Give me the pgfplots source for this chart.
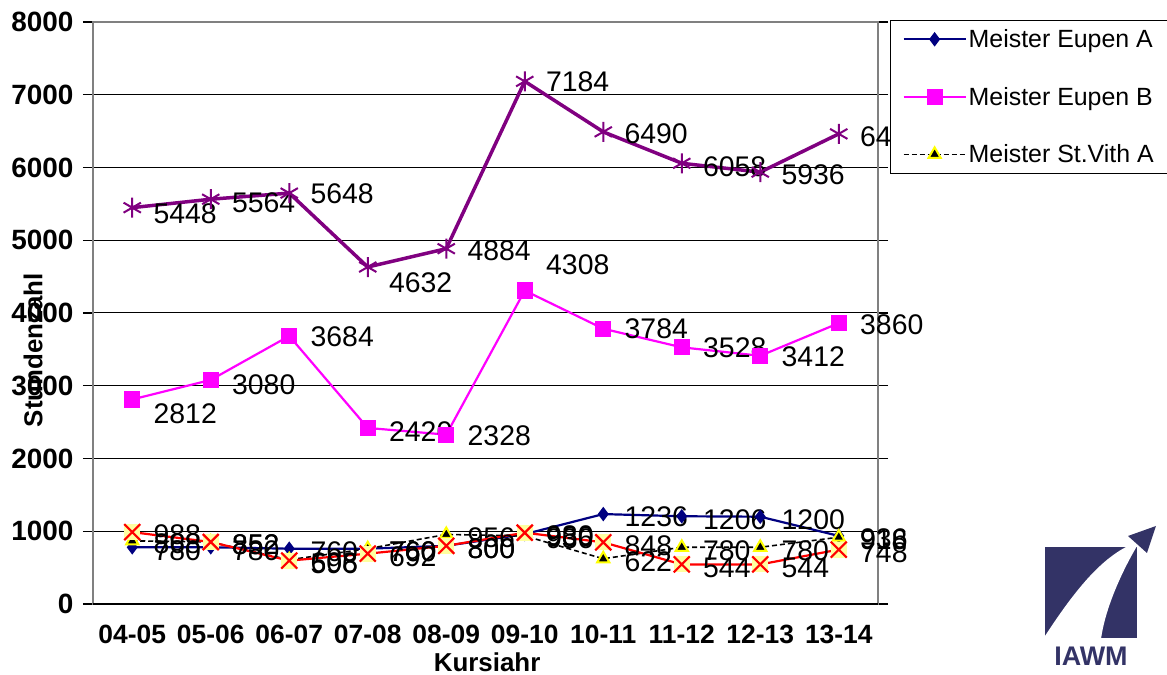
\documentclass[border=0pt]{standalone}
\usepackage{fontspec}
\setmainfont{Liberation Sans}
\usepackage{pgfplots}
\pgfplotsset{compat=1.18}
\definecolor{xnavy}{RGB}{0,0,128}
\definecolor{xmag}{RGB}{255,0,255}
\definecolor{xpurple}{RGB}{128,0,128}
\definecolor{xred}{RGB}{255,0,0}
\definecolor{xyellow}{RGB}{255,255,0}
\definecolor{xpale}{RGB}{255,255,160}
\definecolor{xgray}{RGB}{128,128,128}
\definecolor{logonavy}{RGB}{51,51,102}
\pgfdeclareplotmark{xbox}{%
  \pgfpathrectangle{\pgfpoint{-\pgfplotmarksize}{-\pgfplotmarksize}}{\pgfpoint{2\pgfplotmarksize}{2\pgfplotmarksize}}%
  \pgfsetfillcolor{xpale}\pgfusepathqfill
  \pgfpathmoveto{\pgfpoint{-\pgfplotmarksize}{-\pgfplotmarksize}}\pgfpathlineto{\pgfpoint{\pgfplotmarksize}{\pgfplotmarksize}}%
  \pgfpathmoveto{\pgfpoint{-\pgfplotmarksize}{\pgfplotmarksize}}\pgfpathlineto{\pgfpoint{\pgfplotmarksize}{-\pgfplotmarksize}}%
  \pgfusepathqstroke}
\begin{document}
\begin{tikzpicture}
\useasboundingbox (-93bp,-71bp) rectangle (1074bp,604bp);
\begin{axis}[
  scale only axis, width=785bp, height=582bp,
  xmin=-0.5, xmax=9.5, ymin=0, ymax=8000,
  clip=false,
  /pgf/number format/assume math mode=true,
  /pgf/number format/1000 sep={},
  xtick={0,...,9},
  xticklabels={04-05,05-06,06-07,07-08,08-09,09-10,10-11,11-12,12-13,13-14},
  major x tick style={draw=none},
  extra x ticks={-0.5,0.5,...,9.5},
  extra x tick labels={},
  extra x tick style={tick align=outside, major tick length=10bp, tick style={black, line width=1.2bp}},
  ytick={0,1000,...,8000},
  ymajorgrids,
  major grid style={black, line width=1bp},
  tick align=outside,
  major tick length=10bp,
  tick style={black, line width=1.2bp},
  axis line style={draw=xgray, line width=2.5bp},
  yticklabel style={font=\bfseries\fontsize{28}{30}\selectfont, xshift=-6bp},
  xticklabel style={font=\bfseries\fontsize{26.5}{30}\selectfont, yshift=-8bp},
  xlabel={Kursiahr},
  ylabel={Stundenzahl},
  xlabel style={font=\bfseries\fontsize{26}{30}\selectfont, at={(axis description cs:0.502,-0.1)}, anchor=center},
  ylabel style={font=\bfseries\fontsize{26}{30}\selectfont, at={(axis description cs:-0.0764,0.436)}, anchor=center},
  nodes near coords={\pgfmathprintnumber{\pgfplotspointmeta}},
  every node near coord/.append style={anchor=west, xshift=17bp, yshift=-3bp, font=\fontsize{28.5}{30}\selectfont, black},
  legend style={at={(axis description cs:1.0153,1.0034)}, anchor=north west, draw=black, line width=1bp, fill=white,
    font=\fontsize{25}{29}\selectfont, row sep=34bp, inner ysep=7bp, inner xsep=12bp, legend cell align=left},
  legend image code/.code={\draw[mark repeat=2,mark phase=2,#1] plot coordinates {(0bp,0bp) (31bp,0bp) (62bp,0bp)};},
]
\addplot[xnavy, line width=2.2bp, mark=diamond*, mark size=5.5bp, mark options={fill=xnavy, draw=xnavy}] coordinates {
(0,780) (1,780) (2,760) (3,760) (4,800) (5,960) (6,1236) (7,1206) (8,1200) (9,936)};
\addlegendentry{Meister Eupen A\hspace*{40bp}}
\addplot[xmag, line width=2.2bp, mark=square*, mark size=7bp, mark options={fill=xmag, draw=xmag},
  visualization depends on={\thisrow{dy}\as\dy},
  every node near coord/.append style={yshift=\dy bp}] table[x=x, y=y] {
x y dy
0 2812 -11
1 3080 -2
2 3684 2
3 2420 -1
4 2328 2
5 4308 29
6 3784 3
7 3528 3
8 3412 2
9 3860 1
};
\addlegendentry{Meister Eupen B\hspace*{40bp}}
\addplot[black, line width=1.6bp, dash pattern=on 5bp off 3bp, mark=triangle*, mark size=7bp, mark options={solid, fill=black, draw=xyellow, line width=2bp}] coordinates {
(0,868) (1,852) (2,608) (3,760) (4,956) (5,936) (6,622) (7,780) (8,780) (9,918)};
\addlegendentry{Meister St.Vith A\hspace*{40bp}}
\addplot[xred, line width=2.2bp, mark=xbox, mark size=8bp, mark options={xred, line width=2.2bp}, forget plot] coordinates {
(0,988) (1,852) (2,596) (3,692) (4,800) (5,980) (6,848) (7,544) (8,544) (9,748)};
\addplot[xpurple, line width=3.5bp, mark=asterisk, mark size=10bp, mark options={xpurple, line width=2bp}, forget plot,
  visualization depends on={\thisrow{dy}\as\dy},
  every node near coord/.append style={yshift=\dy bp}] table[x=x, y=y] {
x y dy
0 5448 -3
1 5564 -1
2 5648 2
3 4632 -13
4 4884 1
5 7184 3
6 6490 1
7 6058 0
8 5936 0
9 6462 0
};
\draw[black, line width=1.5bp] (rel axis cs:0,0) -- (rel axis cs:1,0);
\end{axis}
\begin{scope}[shift={(-93bp,604bp)}, x=1bp, y=-1bp]
  \fill[logonavy] (1045,547) rectangle (1137,638);
  \fill[white] (1045,636) .. controls (1075,590) and (1100,560) .. (1128,546) -- (1137,546)
     .. controls (1120,575) and (1105,610) .. (1101,639) -- (1045,639) -- cycle;
  \fill[logonavy] (1128,536) -- (1156,526) -- (1147,553) -- cycle;
  \node[logonavy, font=\bfseries\fontsize{27}{28}\selectfont, anchor=center, inner sep=0pt] at (1091,656) {IAWM};
\end{scope}
\end{tikzpicture}
\end{document}
